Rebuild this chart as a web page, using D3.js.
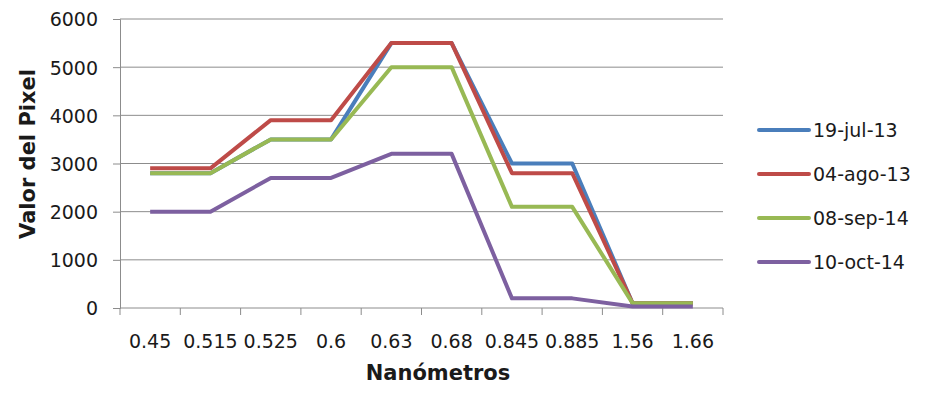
<!DOCTYPE html>
<html>
<head>
<meta charset="utf-8">
<script src="https://cdn.jsdelivr.net/npm/d3@7"></script>
<style>
  body { margin: 0; background: #fff; }
  text { font-family: "DejaVu Sans", sans-serif; fill: #1a1a1a; }
</style>
</head>
<body>
<div id="chart"></div>
<script>
// Data
const categories = ["0.45", "0.515", "0.525", "0.6", "0.63", "0.68", "0.845", "0.885", "1.56", "1.66"];
const seriesNames = ["19-jul-13", "04-ago-13", "08-sep-14", "10-oct-14"];
const jul13 = [2800, 2800, 3500, 3500, 5500, 5500, 3000, 3000, 100, 100];
const ago13 = [2900, 2900, 3900, 3900, 5500, 5500, 2800, 2800, 100, 100];
const sep14 = [2800, 2800, 3500, 3500, 5000, 5000, 2100, 2100, 100, 100];
const oct14 = [2000, 2000, 2700, 2700, 3200, 3200, 200, 200, 30, 30];
const yTicks = [0, 1000, 2000, 3000, 4000, 5000, 6000];
const colors = ["#4A7EBB", "#BE4B48", "#98B954", "#7D60A0"];

const series = [jul13, ago13, sep14, oct14].map((v, i) => ({ name: seriesNames[i], values: v }));

// Dimensions
const W = 929, H = 393;
const margin = { top: 19, right: 206, bottom: 85, left: 120 };
const width = W - margin.left - margin.right,
    height = H - margin.top - margin.bottom;

const svg = d3.select("#chart")
    .append("svg")
    .attr("width", W)
    .attr("height", H);

const g = svg.append("g")
    .attr("transform", `translate(${margin.left},${margin.top})`);

// Scales
const x = d3.scaleBand()
    .domain(categories)
    .range([0, width]);

const y = d3.scaleLinear()
    .domain([0, 6000])
    .range([height, 0]);

// Gridlines
g.append("g")
    .selectAll("line")
    .data(yTicks.filter(d => d > 0))
    .join("line")
    .attr("x1", 0)
    .attr("x2", width)
    .attr("y1", d => y(d))
    .attr("y2", d => y(d))
    .attr("stroke", "#8c8c8c")
    .attr("stroke-width", 1);

// Y axis
const yAxis = g.append("g")
    .call(d3.axisLeft(y).tickValues(yTicks).tickSize(7).tickPadding(15).tickFormat(d3.format("d")));
yAxis.select(".domain").attr("stroke", "#8c8c8c");
yAxis.selectAll(".tick line").attr("stroke", "#8c8c8c");
yAxis.selectAll("text").style("font-size", "19px").attr("dy", "0.36em");

// X axis: ticks on band edges, labels in band centres
const xAxis = g.append("g")
    .attr("transform", `translate(0,${height})`);
xAxis.append("line")
    .attr("x1", 0).attr("x2", width)
    .attr("stroke", "#8c8c8c");
xAxis.selectAll(".edge")
    .data(categories.concat([null]))
    .join("line")
    .attr("class", "edge")
    .attr("x1", (d, i) => i * x.step())
    .attr("x2", (d, i) => i * x.step())
    .attr("y1", 0)
    .attr("y2", 7)
    .attr("stroke", "#8c8c8c");
xAxis.selectAll(".lbl")
    .data(categories)
    .join("text")
    .attr("class", "lbl")
    .attr("x", d => x(d) + x.bandwidth() / 2)
    .attr("y", 40)
    .attr("text-anchor", "middle")
    .style("font-size", "19px")
    .text(d => d);

// Lines
const line = d3.line()
    .x((d, i) => x(categories[i]) + x.bandwidth() / 2)
    .y(d => y(d));

g.selectAll(".series")
    .data(series)
    .join("path")
    .attr("class", "series")
    .attr("fill", "none")
    .attr("stroke", (d, i) => colors[i])
    .attr("stroke-width", 4)
    .attr("stroke-linejoin", "round")
    .attr("d", d => line(d.values));

// Axis titles
svg.append("text")
    .attr("x", 438)
    .attr("y", 380)
    .attr("text-anchor", "middle")
    .style("font-size", "21px")
    .style("font-weight", "bold")
    .text("Nanómetros");

svg.append("text")
    .attr("transform", "rotate(-90)")
    .attr("x", -154)
    .attr("y", 35)
    .attr("text-anchor", "middle")
    .style("font-size", "21px")
    .style("font-weight", "bold")
    .text("Valor del Pixel");

// Legend
const legend = svg.append("g")
    .attr("transform", "translate(759,130)");
const item = legend.selectAll("g")
    .data(series)
    .join("g")
    .attr("transform", (d, i) => `translate(0,${i * 44})`);
item.append("line")
    .attr("x1", 0).attr("x2", 50)
    .attr("stroke", (d, i) => colors[i])
    .attr("stroke-width", 4)
    .attr("stroke-linecap", "round");
item.append("text")
    .attr("x", 54)
    .attr("dy", "0.36em")
    .style("font-size", "19px")
    .text(d => d.name);
</script>
</body>
</html>
